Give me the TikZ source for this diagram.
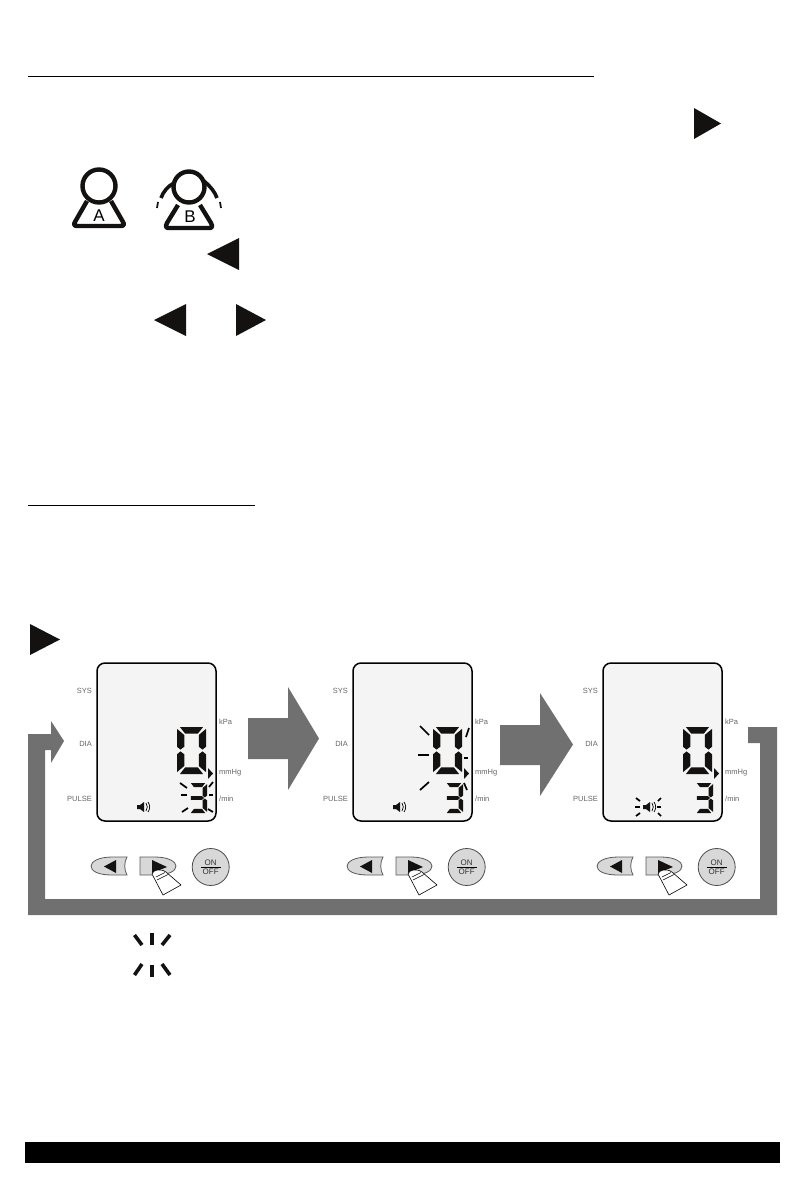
\documentclass[tikz,border=0pt]{standalone}
\usepackage{fontspec}
\setmainfont{Liberation Sans}
\definecolor{arrowgrey}{HTML}{707070}
\definecolor{lcdfill}{HTML}{F4F4F4}
\definecolor{btnfill}{HTML}{D8D8D8}
\definecolor{inkblack}{HTML}{141210}
\tikzset{
  rulebar/.style={draw=black,line width=.9pt},
  solidtri/.style={fill=inkblack,draw=none},
  bigarrow/.style={fill=arrowgrey,draw=none},
  lcdlabel/.style={font=\fontsize{7.5}{8}\selectfont,text=black!60,inner sep=0pt},
  lcdlabelL/.style={lcdlabel,anchor=west},
  lcdlabelR/.style={lcdlabel,anchor=east},
  flash/.style={draw=black,line width=1.7pt},
  btn/.style={fill=btnfill,draw=black!65,line width=.8pt},
  personline/.style={draw=inkblack,line width=4.4pt,line join=round},
  burst/.style={draw=inkblack,line width=3.6pt}
}
% seven-segment parts, unit box
\newcommand{\segT}{\fill[inkblack] (.1,0)--(.9,0)--(.72,.14)--(.28,.14)--cycle;}
\newcommand{\segB}{\fill[inkblack] (.1,1)--(.9,1)--(.72,.86)--(.28,.86)--cycle;}
\newcommand{\segUL}{\fill[inkblack] (0,.04)--(.25,.17)--(.25,.42)--(.12,.48)--(0,.42)--cycle;}
\newcommand{\segLL}{\fill[inkblack] (0,.96)--(.25,.83)--(.25,.58)--(.12,.52)--(0,.58)--cycle;}
\newcommand{\segUR}{\fill[inkblack] (1,.04)--(.75,.17)--(.75,.42)--(.88,.48)--(1,.42)--cycle;}
\newcommand{\segLR}{\fill[inkblack] (1,.96)--(.75,.83)--(.75,.58)--(.88,.52)--(1,.58)--cycle;}
\newcommand{\segM}{\fill[inkblack] (.1,.44)--(.72,.44)--(.84,.5)--(.72,.56)--(.1,.56)--cycle;}
\newcommand{\lcdpanel}[3]{% #1 x offset, #2 name prefix, #3 flash marks
\begin{scope}[xshift=#1pt]
  \draw[fill=lcdfill,draw=black,line width=1.5pt,rounded corners=8pt] (97,663) rectangle (216,821);
  \node[lcdlabelR] (#2sys) at (92,691) {SYS};
  \node[lcdlabelR] (#2dia) at (92,744) {DIA};
  \node[lcdlabelR] (#2pulse) at (92,799) {PULSE};
  \node[lcdlabelL] (#2kpa) at (219,722) {kPa};
  \node[lcdlabelL] (#2mmhg) at (219,773) {mmHg};
  \node[lcdlabelL] (#2min) at (219,799) {/min};
  \begin{scope}[shift={(177,727)},x=29pt,y=-47pt]
    \segT\segB\segUL\segLL\segUR\segLR
  \end{scope}
  \begin{scope}[shift={(189,783)},x=18pt,y=-30pt]
    \segT\segM\segB\segUR\segLR
  \end{scope}
  \fill[solidtri] (208,768)--(213,773.5)--(208,779)--cycle;
  % speaker
  \fill[inkblack] (137,805)--(140,805)--(144,802)--(144,812)--(140,809)--(137,809)--cycle;
  \draw[black,line width=.7pt] (146,803) to[bend left=35] (146,811);
  \draw[black,line width=.7pt] (148,802) to[bend left=35] (148,812);
  #3
  % buttons
  \draw[btn] (127,857) -- (112,857) .. controls (98,857) and (91,862) .. (91,866) .. controls (91,871) and (98,875) .. (112,875) -- (127,875) .. controls (124,870) and (124,862) .. (127,857) -- cycle;
  \fill[solidtri] (104,866.5)--(116,860)--(116,873)--cycle;
  \draw[btn] (140,857) -- (155,857) .. controls (169,857) and (176,862) .. (176,866) .. controls (176,871) and (169,875) .. (155,875) -- (140,875) -- cycle;
  \fill[solidtri] (152,860)--(167,867)--(152,873)--cycle;
  \draw[fill=white,draw=black,line width=.6pt,line join=round] (152,874) .. controls (153,870) and (160,868) .. (166,872) -- (181,885) -- (163,895) -- cycle;
  \draw[black,line width=.5pt] (157,880)--(168,874.5);
  \draw[black,line width=.5pt] (156,877)--(165,872.5);
  \node[draw=black!70,fill=btnfill,circle,line width=.8pt,minimum size=37pt,inner sep=0pt] (#2onoff) at (210.7,867) {};
  \node[font=\fontsize{8}{8}\selectfont,text=black!80,inner sep=0pt,anchor=south] (#2on) at (210.7,866) {ON};
  \node[font=\fontsize{8}{8}\selectfont,text=black!80,inner sep=0pt,anchor=north] (#2off) at (210.7,868.5) {OFF};
  \draw[black,line width=.8pt] (201,867)--(220.5,867);
\end{scope}}
\begin{document}
\begin{tikzpicture}[x=1pt,y=-1pt]
\useasboundingbox[fill=white] (0,0) rectangle (805,1191);
\coordinate (r1a) at (28,76); \coordinate (r1b) at (594,76);
\coordinate (r2a) at (28,505); \coordinate (r2b) at (255,505);
\draw[rulebar] (r1a)--(r1b);
\draw[rulebar] (r2a)--(r2b);
% solid triangles
\fill[solidtri] (694,108)--(721,123.5)--(694,139)--cycle;
\fill[solidtri] (207,254)--(239,238)--(239,270)--cycle;
\fill[solidtri] (154,320)--(186,304)--(186,336)--cycle;
\fill[solidtri] (236,304)--(266,320)--(236,336)--cycle;
\fill[solidtri] (30,624)--(60,639.5)--(30,655)--cycle;
% person A
\draw[personline] (99,186) circle[radius=16.5pt];
\draw[personline] (87,201)--(75.5,221) .. controls (73,225) and (74,226) .. (78,226) -- (120,226) .. controls (124,226) and (125,225) .. (122.5,221) -- (111,201);
\node[font=\fontsize{17}{17}\selectfont,inner sep=0pt] (persona) at (99,216) {A};
% person B
\draw[personline] (189,187) circle[radius=15.5pt];
\draw[personline] (178,205)--(167,223) .. controls (165,227) and (166,228) .. (169,228) -- (209,228) .. controls (212,228) and (213,227) .. (211,223) -- (200,205);
\draw[draw=inkblack,line width=3.6pt] (161,198) .. controls (163,192) and (168,186) .. (174,183);
\draw[draw=inkblack,line width=3.6pt] (217,198) .. controls (215,192) and (210,186) .. (204,181);
\draw[draw=inkblack,line width=1.8pt] (157,208)--(158,202);
\draw[draw=inkblack,line width=1.8pt] (221,208)--(220,202);
\node[font=\fontsize{17}{17}\selectfont,inner sep=0pt] (personb) at (190,217) {B};
% big arrows
\fill[bigarrow] (248,718)--(288,718)--(288,687)--(319,738.5)--(288,790)--(288,759)--(248,759)--cycle;
\fill[bigarrow] (500,725)--(540,725)--(540,693)--(573,744.5)--(540,796)--(540,765)--(500,765)--cycle;
% loop arrow
\fill[bigarrow] (748,727)--(777,727)--(777,915)--(28,915)--(28,734)--(51,734)--(51,721)--(64,741)--(51,763)--(51,750)--(45,750)--(45,899)--(760,899)--(760,743)--(748,743)--cycle;
% panels
\lcdpanel{0}{pa}{
  \draw[flash] (180,783)--(187,788);
  \draw[flash] (181,795)--(187,795);
  \draw[flash] (182,812)--(188,808);
  \draw[flash] (208,809)--(213,812);
  \draw[flash] (209,795)--(213,795);
  \draw[flash] (213,782)--(209,787);
}
\lcdpanel{256}{pb}{
  \draw[flash] (164,726)--(173,735);
  \draw[flash] (162,755)--(173,755);
  \draw[flash] (164,790)--(173,782);
  \draw[flash] (210,737)--(213,728);
  \draw[flash] (208,758)--(212,758);
  \draw[flash] (208,783)--(211,790);
}
\lcdpanel{506}{pc}{
  \draw[flash] (130,798)--(134,801);
  \draw[flash] (129,807)--(134,807);
  \draw[flash] (130,816)--(134,813);
  \draw[flash] (155,798)--(152,801);
  \draw[flash] (151,807)--(155,807);
  \draw[flash] (155,816)--(152,813);
}
% burst legend
\draw[burst] (134.5,935)--(142,945);
\draw[burst] (152,933)--(152,945);
\draw[burst] (170,935)--(162,945);
\draw[burst] (134.5,975)--(142,964);
\draw[burst] (152,965)--(152,977);
\draw[burst] (170,975)--(162,964);
% footer bar
\fill[black] (25,1142) rectangle (780,1163);
\end{tikzpicture}
\end{document}
